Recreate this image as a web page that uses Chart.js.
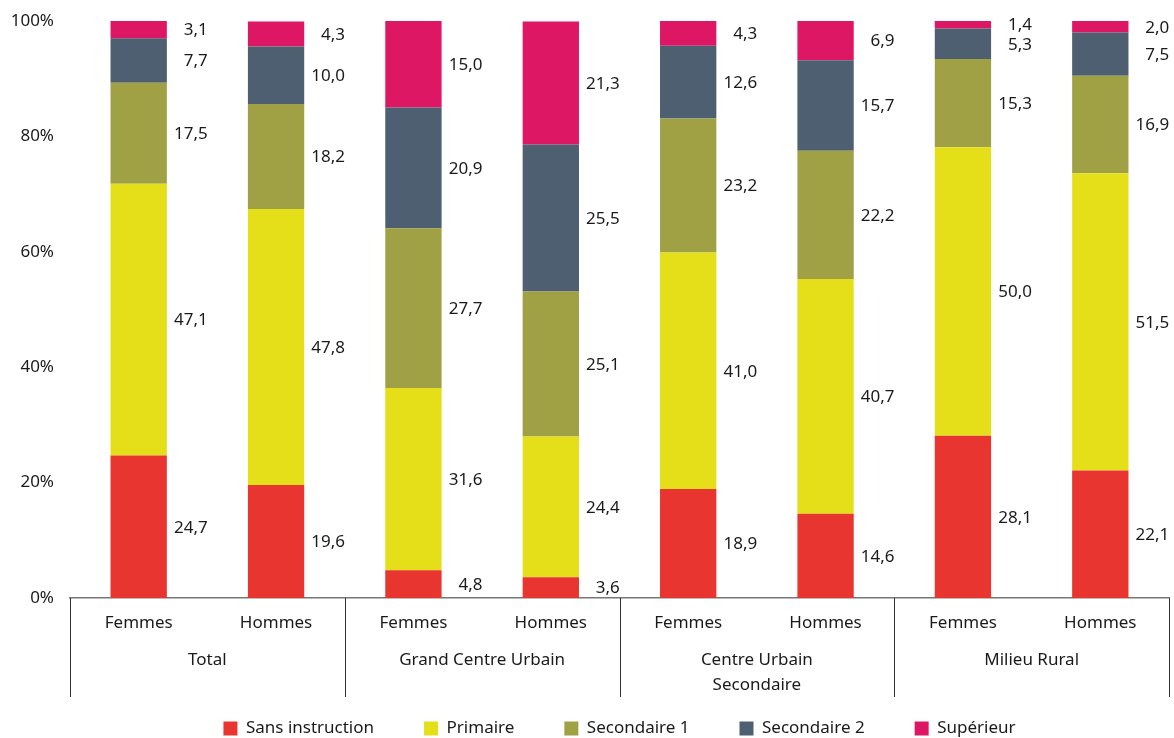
<!DOCTYPE html>
<html>
<head>
<meta charset="utf-8">
<script src="https://cdn.jsdelivr.net/npm/chart.js@4.4.1/dist/chart.umd.min.js"></script>
<style>
  html, body { margin: 0; padding: 0; background: #fff; }
  #wrap { width: 1174px; height: 738px; position: relative; }
</style>
</head>
<body>
<div id="wrap"><canvas id="chart"></canvas></div>
<script>
// categories
const sexes = ['Femmes', 'Hommes', 'Femmes', 'Hommes', 'Femmes', 'Hommes', 'Femmes', 'Hommes'];
const groups = [['Total'], ['Grand Centre Urbain'], ['Centre Urbain', 'Secondaire'], ['Milieu Rural']];
const levels = ['Sans instruction', 'Primaire', 'Secondaire 1', 'Secondaire 2', 'Supérieur'];

// series values (%)
const sansInstruction = [24.7, 19.6, 4.8, 3.6, 18.9, 14.6, 28.1, 22.1];
const primaire        = [47.1, 47.8, 31.6, 24.4, 41.0, 40.7, 50.0, 51.5];
const secondaire1     = [17.5, 18.2, 27.7, 25.1, 23.2, 22.2, 15.3, 16.9];
const secondaire2     = [7.7, 10.0, 20.9, 25.5, 12.6, 15.7, 5.3, 7.5];
const superieur       = [3.1, 4.3, 15.0, 21.3, 4.3, 6.9, 1.4, 2.0];

// y tick labels
const yTicks = [0, 20, 40, 60, 80, 100];

const FONT = '"Noto Sans", sans-serif';
const colors = ['#E8352F', '#E5DF1A', '#A0A045', '#4E5F71', '#DD1763'];
const series = [sansInstruction, primaire, secondaire1, secondaire2, superieur];

// value labels right of each segment
const valueLabels = {
  id: 'valueLabels',
  afterDatasetsDraw(chart) {
    const ctx = chart.ctx;
    ctx.save();
    ctx.font = '17px ' + FONT;
    ctx.fillStyle = '#1a1a1a';
    ctx.textAlign = 'right';
    ctx.textBaseline = 'middle';
    chart.data.datasets.forEach((ds, di) => {
      const meta = chart.getDatasetMeta(di);
      meta.data.forEach((bar, i) => {
        const y = (bar.y + bar.base) / 2;
        ctx.fillText(ds.data[i].toFixed(1).replace('.', ','), bar.x + 69, y + 1);
      });
    });
    ctx.restore();
  }
};

// group labels and separators below the x axis
const groupAxis = {
  id: 'groupAxis',
  afterDraw(chart) {
    const ctx = chart.ctx;
    const x = chart.scales.x;
    const area = chart.chartArea;
    const step = x.getPixelForValue(1) - x.getPixelForValue(0);
    ctx.save();
    ctx.strokeStyle = '#333';
    ctx.lineWidth = 1;
    for (let g = 0; g <= groups.length; g++) {
      const px = Math.round(x.getPixelForValue(g * 2) - step / 2) + 0.5;
      ctx.beginPath();
      ctx.moveTo(px, area.bottom);
      ctx.lineTo(px, area.bottom + 99);
      ctx.stroke();
    }
    ctx.font = '17px ' + FONT;
    ctx.fillStyle = '#1a1a1a';
    ctx.textAlign = 'center';
    ctx.textBaseline = 'middle';
    groups.forEach((lines, g) => {
      const cx = (x.getPixelForValue(g * 2) + x.getPixelForValue(g * 2 + 1)) / 2;
      lines.forEach((t, li) => ctx.fillText(t, cx, area.bottom + 62 + li * 25));
    });
    ctx.restore();
  }
};

new Chart(document.getElementById('chart'), {
  type: 'bar',
  data: {
    labels: sexes,
    datasets: levels.map((name, i) => ({
      label: name,
      data: series[i],
      backgroundColor: colors[i],
      borderWidth: 0,
      categoryPercentage: 1,
      barPercentage: 0.41
    }))
  },
  options: {
    responsive: true,
    maintainAspectRatio: false,
    animation: false,
    layout: { padding: { left: 4, right: 5, top: 21, bottom: -9 } },
    scales: {
      x: {
        stacked: true,
        grid: { display: false },
        border: { display: true, color: '#777', width: 1.5 },
        ticks: { color: '#1a1a1a', font: { family: FONT, size: 17 }, padding: 7, maxRotation: 0 },
        afterFit(scale) { scale.height = 72; }
      },
      y: {
        stacked: true,
        min: 0,
        max: 100,
        grid: { display: false },
        border: { display: false },
        afterBuildTicks(scale) { scale.ticks = yTicks.map(v => ({ value: v })); },
        afterFit(scale) { scale.width = 66; },
        ticks: {
          color: '#1a1a1a',
          font: { family: FONT, size: 17 },
          padding: 8,
          callback: v => v + '%'
        }
      }
    },
    plugins: {
      legend: {
        position: 'bottom',
        fullSize: false,
        labels: {
          boxWidth: 14,
          boxHeight: 14,
          padding: 50,
          color: '#1a1a1a',
          font: { family: FONT, size: 17 }
        }
      },
      tooltip: { enabled: false }
    }
  },
  plugins: [valueLabels, groupAxis]
});
</script>
</body>
</html>
